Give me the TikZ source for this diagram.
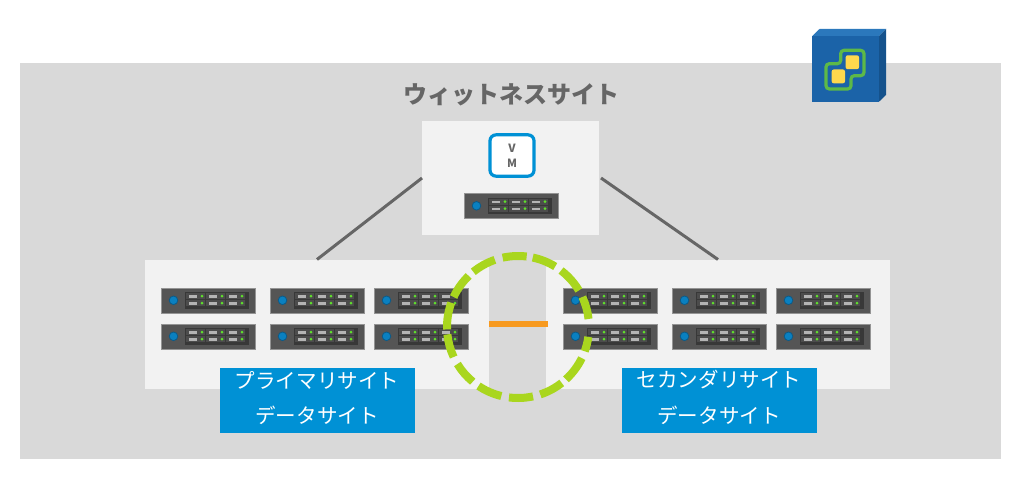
\documentclass[tikz,border=0pt]{standalone}
\usepackage{fontspec}
\newfontfamily\cjk{Noto Sans CJK JP}
\definecolor{bggray}{HTML}{D9D9D9}
\definecolor{panel}{HTML}{F2F2F2}
\definecolor{labelblue}{HTML}{0091D5}
\definecolor{linegray}{HTML}{666666}
\definecolor{ringgreen}{HTML}{A9D61E}
\definecolor{linkorange}{HTML}{F79A20}
\definecolor{srvbody}{HTML}{555555}
\definecolor{srvedge}{HTML}{949494}
\definecolor{srvdark}{HTML}{383838}
\definecolor{srvcell}{HTML}{4C4C4C}
\definecolor{srvbar}{HTML}{B4B4B4}
\definecolor{srvled}{HTML}{5FE02C}
\definecolor{srvblue}{HTML}{0A80C0}
\definecolor{srvblueedge}{HTML}{0B5A88}
\definecolor{logoface}{HTML}{1B63A8}
\definecolor{logotop}{HTML}{2B78BC}
\definecolor{logoside}{HTML}{15528C}
\definecolor{logogreen}{HTML}{5DB948}
\definecolor{logoyellow}{HTML}{FFD84D}
\tikzset{
  x=0.75pt,y=-0.75pt,
  panelbox/.style={fill=panel,draw=none,inner sep=0,outer sep=0,anchor=north west},
  sitelabel/.style={fill=labelblue,draw=none,inner sep=0,outer sep=0,anchor=north west,minimum width=146pt,minimum height=48.75pt},
  labeltext/.style={text=white,font=\cjk\fontsize{15.4pt}{18pt}\selectfont,inner sep=0},
  connector/.style={draw=linegray,line width=2.25pt},
  ringdash/.style={draw=ringgreen,line width=6pt},
  srv/.pic={
    \node[fill=srvbody,draw=srvedge,line width=0.4pt,inner sep=0,outer sep=0,anchor=north west,minimum width=70.5pt,minimum height=18.75pt] (-body) at (0,0) {};
    \fill[srvdark] (24,4) rectangle (87.5,20.5);
    \foreach \c in {0,20,40}{
      \foreach \r in {0,7}{
        \fill[srvcell] (25+\c,5+\r) rectangle (43.5+\c,11+\r);
        \fill[srvbar] (27.5+\c,7+\r) rectangle (35.5+\c,9.6+\r);
        \fill[srvled] (41+\c,8.2+\r) circle[radius=1.5];
      }
    }
    \fill[srvblue,draw=srvblueedge,line width=0.6pt] (12.5,12.3) circle[radius=4.3];
  }
}
\begin{document}
\begin{tikzpicture}
\useasboundingbox (0,0) rectangle (1024,481);
\fill[white] (0,0) rectangle (1024,481);
\fill[bggray] (20,63) rectangle (1001,459);
% logo
\fill[logotop] (812.3,36) -- (819.5,29) -- (886,29) -- (879,36) -- cycle;
\fill[logoside] (879,36) -- (886,29) -- (886,95) -- (879,101.7) -- cycle;
\fill[logoface] (812.3,36) rectangle (879,101.7);
\draw[logogreen,line width=2.4pt,rounded corners=2.5] (840.7,50.3) -- (864,50.3) -- (864,75.7) -- (851,75.7) -- (851,89) -- (826,89) -- (826,63.7) -- (840.7,63.7) -- cycle;
\fill[logoyellow,rounded corners=1.5] (831.7,69.5) rectangle (845,83.3);
\fill[logoyellow,rounded corners=1.5] (845.7,55.3) rectangle (859,69.2);
% title
\node[text=linegray,font=\cjk\bfseries\fontsize{18pt}{20pt}\selectfont,inner sep=0] (title) at (511,95) {ウィットネスサイト};
% panels
\node[panelbox,minimum width=132.75pt,minimum height=85.5pt] (witness) at (422,121) {};
\node[panelbox,minimum width=258pt,minimum height=96.75pt] (primary) at (145,259.5) {};
\node[panelbox,minimum width=258pt,minimum height=96.75pt] (secondary) at (546,259.5) {};
% connectors
\draw[connector] (witness.west) -- (primary.north);
\draw[connector] ([xshift=1.5pt]witness.east) -- (secondary.north);
\draw[draw=linkorange,line width=4.5pt] (primary.east |- 0,324) -- ([xshift=1.2pt]secondary.west |- 0,324);
% VM
\node[draw=labelblue,fill=white,line width=2.4pt,rounded corners=4.5pt,inner sep=0,minimum width=33pt,minimum height=31pt,align=center,text=linegray,font=\cjk\bfseries\fontsize{8.5pt}{11.2pt}\selectfont] (vm) at (512,155.5) {V\\M};
% servers
\pic (w) at (464,193.5) {srv};
\pic (a1) at (161,288) {srv};
\pic (a2) at (270,288) {srv};
\pic (a3) at (374,288) {srv};
\pic (a4) at (161,324) {srv};
\pic (a5) at (270,324) {srv};
\pic (a6) at (374,324) {srv};
\pic (b1) at (563,288) {srv};
\pic (b2) at (672,288) {srv};
\pic (b3) at (776,288) {srv};
\pic (b4) at (563,324) {srv};
\pic (b5) at (672,324) {srv};
\pic (b6) at (776,324) {srv};
% ring
\coordinate (ring) at (518,327);
\foreach \a/\b in {-102.5/-83,-78/-58.4,-52.7/-31,-25/-6.5,8/20,26/47.5,52/71.7,77.8/97.3,103.6/123.8,129.6/148.6,155/174,178/200,205/226,231/251}{
  \draw[ringdash] (ring) ++(\a:71) arc[start angle=\a,end angle=\b,radius=71];
}
% labels
\node[sitelabel] (pl) at (220,368) {};
\node[sitelabel] (sl) at (622,368) {};
\node[labeltext] (pl1) at (317,380) {プライマリサイト};
\node[labeltext] (pl2) at (317,415) {データサイト};
\node[labeltext] (sl1) at (719,380) {セカンダリサイト};
\node[labeltext] (sl2) at (719,415) {データサイト};
\end{tikzpicture}
\end{document}
